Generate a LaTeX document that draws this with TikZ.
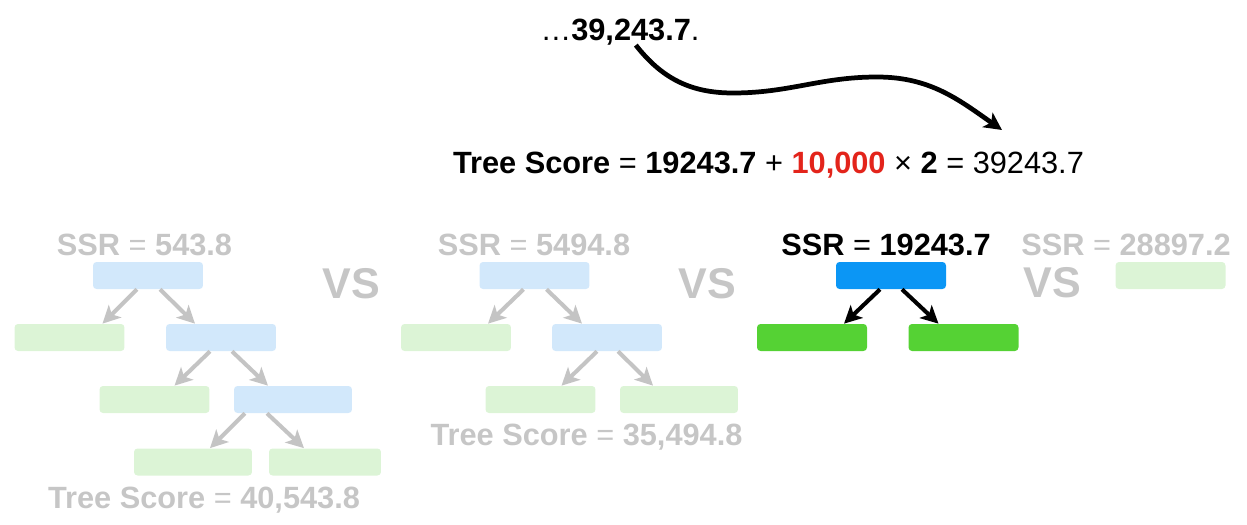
\documentclass[tikz,border=0pt]{standalone}
\usepackage{fontspec}
\setmainfont{Liberation Sans}
\usepackage{xcolor}
\usetikzlibrary{arrows.meta, calc}

\definecolor{fadeblue}{HTML}{D2E8FB}
\definecolor{fadegreen}{HTML}{DCF4D6}
\definecolor{fadegray}{HTML}{C6C6C6}
\definecolor{arrowgray}{HTML}{C4C4C4}
\definecolor{leafgreen}{HTML}{55D234}
\definecolor{rootblue}{HTML}{0B96F5}
\definecolor{penaltyred}{HTML}{E3241B}

\begin{document}
\begin{tikzpicture}[x=0.02cm, y=-0.02cm,
  >={Stealth[length=10pt,width=10pt,inset=2.5pt]},
  font=\fontsize{17.5}{21}\selectfont,
  box/.style={minimum width=2.2cm, minimum height=0.54cm, inner sep=0pt, rounded corners=2pt},
  fblue/.style={box, fill=fadeblue},
  fgreen/.style={box, fill=fadegreen},
  lbl/.style={anchor=base, inner sep=0pt},
  faded/.style={lbl, text=fadegray},
  vs/.style={faded, font=\fontsize{24.5}{28}\selectfont\bfseries},
  garrow/.style={->, draw=arrowgray, line width=2.3pt},
  barrow/.style={->, draw=black, line width=2.3pt}]
  \useasboundingbox (0,0) rectangle (1247,524);

  % Top: the score and the curved arrow
  \node[lbl] (top) at (620,40) {…{\bfseries 39,243.7}.};
  \node[lbl] (eqn) at (768.5,173) {{\bfseries Tree Score} = {\bfseries 19243.7} + \textcolor{penaltyred}{\bfseries 10,000} × {\bfseries 2} = 39243.7};
  \coordinate (tip) at (1002,130);
  \draw[barrow, line width=2.7pt] ([xshift=9pt]top.south) to[out=-52,in=180] (733,93)
    to[out=0,in=180] (877,77) to[out=0,in=145] (tip);

  % Tree 1 (faded)
  \node[faded] (ssr1) at (144.5,255) {{\bfseries SSR} = {\bfseries 543.8}};
  \node[fblue] (r1) at (148,275.5) {};
  \node[fgreen] (l1a) at (69.5,337.5) {};
  \node[fblue] (b1) at (221,337.5) {};
  \node[fgreen] (l1b) at (154.5,399.5) {};
  \node[fblue, minimum width=2.36cm] (b1c) at (293,399.5) {};
  \node[fgreen, minimum width=2.36cm] (l1c) at (193,462) {};
  \node[fgreen, minimum width=2.24cm] (l1d) at (325,462) {};
  \node[faded] (ts1) at (204,508) {{\bfseries Tree Score} = {\bfseries 40,543.8}};

  \draw[garrow] ($(r1.south)+(-11,0)$) -- ($(l1a.north)+(33,0)$);
  \draw[garrow] ($(r1.south)+(12,0)$) -- ($(b1.north)+(-26,0)$);
  \draw[garrow] ($(b1.south)+(-11,0)$) -- ($(l1b.north)+(20,0)$);
  \draw[garrow] ($(b1.south)+(11,0)$) -- ($(b1c.north)+(-25,0)$);
  \draw[garrow] ($(b1c.south)+(-48,0)$) -- ($(l1c.north)+(17,0)$);
  \draw[garrow] ($(b1c.south)+(-26,0)$) -- ($(l1d.north)+(-21,0)$);

  \node[vs] (vs1) at (351.5,298) {VS};

  % Tree 2 (faded)
  \node[faded] (ssr2) at (534,255) {{\bfseries SSR} = {\bfseries 5494.8}};
  \node[fblue] (r2) at (534.5,275.5) {};
  \node[fgreen] (l2a) at (456,337.5) {};
  \node[fblue] (b2) at (607,337.5) {};
  \node[fgreen] (l2b) at (540.5,399.5) {};
  \node[fgreen, minimum width=2.36cm] (l2c) at (679,399.5) {};
  \node[faded] (ts2) at (586.5,445) {{\bfseries Tree Score} = {\bfseries 35,494.8}};

  \draw[garrow] ($(r2.south)+(-11,0)$) -- ($(l2a.north)+(32,0)$);
  \draw[garrow] ($(r2.south)+(12,0)$) -- ($(b2.north)+(-25,0)$);
  \draw[garrow] ($(b2.south)+(-10,0)$) -- ($(l2b.north)+(21,0)$);
  \draw[garrow] ($(b2.south)+(11,0)$) -- ($(l2c.north)+(-26,0)$);

  \node[vs] (vs2) at (707,298) {VS};

  % Tree 3 (highlighted)
  \node[lbl] (ssr3) at (886,255) {{\bfseries SSR} = {\bfseries 19243.7}};
  \node[box, fill=rootblue] (r3) at (891,275.5) {};
  \node[box, fill=leafgreen] (l3a) at (812,337.5) {};
  \node[box, fill=leafgreen] (l3b) at (963.5,337.5) {};

  \draw[barrow] ($(r3.south)+(-11,0)$) -- ($(l3a.north)+(32,0)$);
  \draw[barrow] ($(r3.south)+(11,0)$) -- ($(l3b.north)+(-25,0)$);

  \node[vs] (vs3) at (1052,297) {VS};

  % Tree 4 (faded stump)
  \node[faded] (ssr4) at (1126,255) {{\bfseries SSR} = {\bfseries 28897.2}};
  \node[fgreen] (l4) at (1170.5,275.5) {};
\end{tikzpicture}
\end{document}
